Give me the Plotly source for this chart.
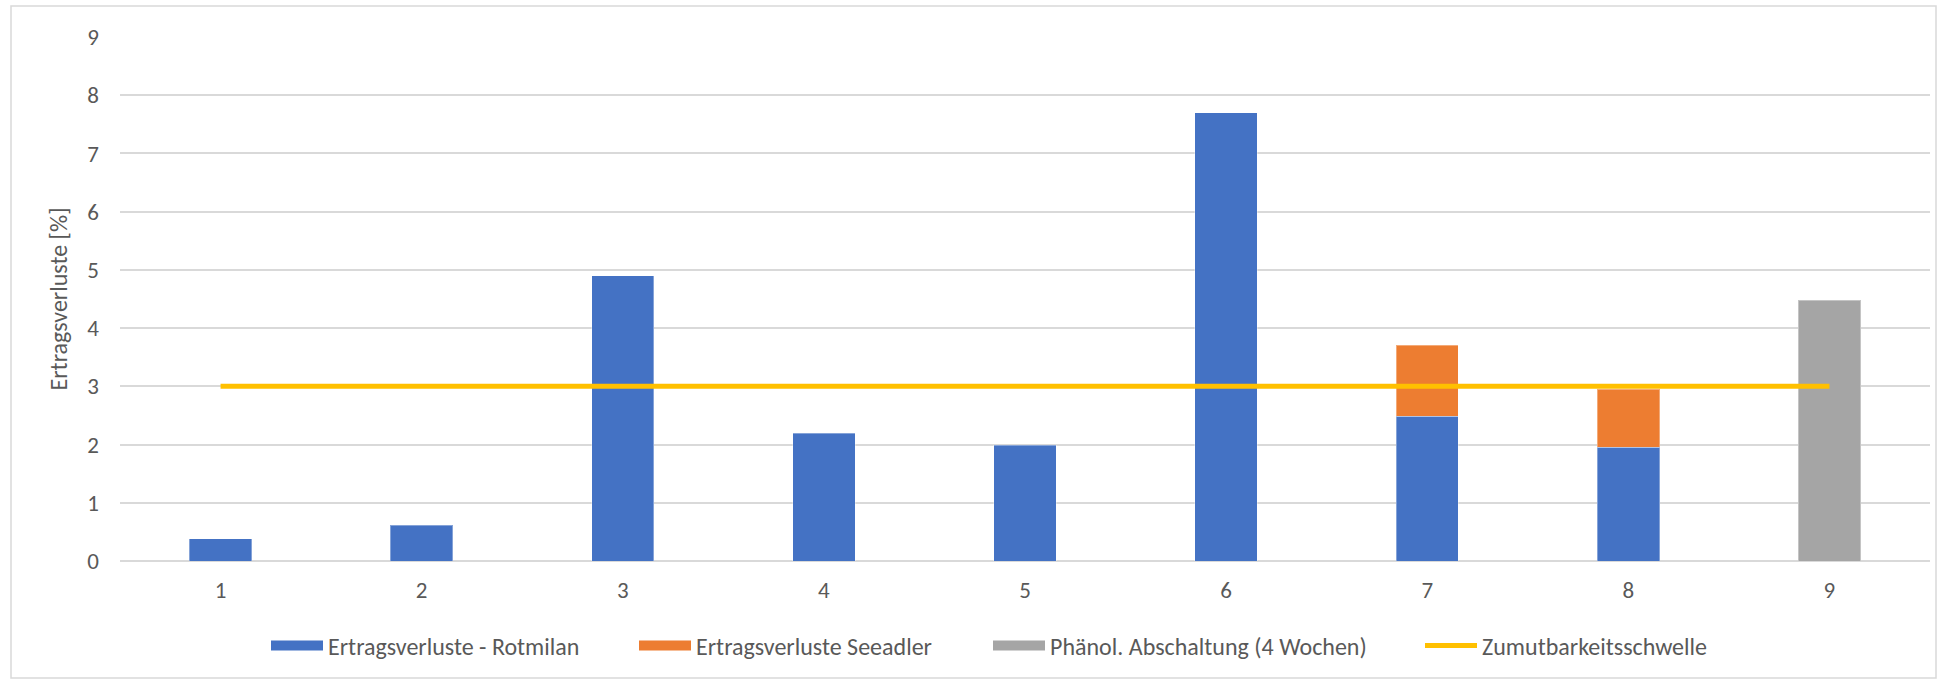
import plotly.graph_objects as go

categories = [1, 2, 3, 4, 5, 6, 7, 8, 9]
rotmilan = [0.38, 0.61, 4.90, 2.19, 1.99, 7.70, 2.49, 1.95, None]
seeadler = [None, None, None, None, None, None, 1.22, 1.00, None]
phaenol = [None, None, None, None, None, None, None, None, 4.48]
schwelle = [3, 3, 3, 3, 3, 3, 3, 3, 3]
y_ticks = [0, 1, 2, 3, 4, 5, 6, 7, 8, 9]

names = ["Ertragsverluste - Rotmilan", "Ertragsverluste Seeadler",
         "Phänol. Abschaltung (4 Wochen)", "Zumutbarkeitsschwelle"]
colors = ["#4472C4", "#ED7D31", "#A5A5A5", "#FFC000"]

FONT = "Calibri, Carlito, Lato, sans-serif"
TXT = "#595959"
FS_TICK = 23
FS_LEG = 24
FS_TITLE = 24
W, H = 1940, 681
L, R, T, B = 120, 10, 37, 120
pw, ph = W - L - R, H - T - B

def px_x(p):
    return (p - L) / pw

def px_y(p):
    return (H - B - p) / ph

fig = go.Figure()
edge = dict(color="rgba(255,255,255,0.35)", width=1)
for vals, nm, col in [(rotmilan, names[0], colors[0]), (seeadler, names[1], colors[1]),
                      (phaenol, names[2], colors[2])]:
    fig.add_trace(go.Bar(x=categories, y=vals, name=nm, marker=dict(color=col, line=edge),
                         width=0.31, showlegend=False))
fig.add_trace(go.Scatter(x=categories, y=schwelle, name=names[3], mode="lines",
                         line=dict(color=colors[3], width=5), showlegend=False))

# legend entries (wide keys as in the original)
leg_ids = ["legend", "legend2", "legend3", "legend4"]
key_w = [12, 12, 12, 5]
for nm, col, lid, kw in zip(names, colors, leg_ids, key_w):
    fig.add_trace(go.Scatter(x=[None], y=[None], name=nm, mode="lines",
                             line=dict(color=col, width=kw), legend=lid, showlegend=True,
                             hoverinfo="skip"))

leg_y = px_y(646)
def leg(xpx):
    return dict(x=px_x(xpx), y=leg_y, xanchor="left", yanchor="middle", orientation="h",
                font=dict(family=FONT, size=FS_LEG, color=TXT), bgcolor="rgba(0,0,0,0)",
                itemwidth=52, tracegroupgap=0, visible=True)

fig.update_layout(
    width=W, height=H,
    margin=dict(l=L, r=R, t=T, b=B, pad=0),
    barmode="stack",
    showlegend=True,
    plot_bgcolor="white", paper_bgcolor="white",
    font=dict(family=FONT, size=FS_TICK, color=TXT),
    xaxis=dict(range=[0.5, 9.5], tickmode="array", tickvals=categories,
               ticktext=[str(c) for c in categories], showgrid=False, zeroline=False,
               showline=False, ticks="", ticklabelstandoff=13,
               tickfont=dict(family=FONT, size=FS_TICK, color=TXT)),
    yaxis=dict(range=[0, 9], tickmode="array", tickvals=y_ticks,
               showgrid=True, gridcolor="#D9D9D9", gridwidth=1.5,
               zeroline=True, zerolinecolor="#D9D9D9", zerolinewidth=1.5,
               showline=False, ticks="", ticklabelstandoff=20,
               tickfont=dict(family=FONT, size=FS_TICK, color=TXT),
               title=dict(text="Ertragsverluste [%]", standoff=12,
                          font=dict(family=FONT, size=FS_TITLE, color=TXT))),
    legend=leg(266), legend2=leg(634), legend3=leg(988), legend4=leg(1420),
    shapes=[dict(type="rect", xref="paper", yref="paper",
                 x0=px_x(11), x1=px_x(1936), y0=px_y(678), y1=px_y(6),
                 line=dict(color="#D9D9D9", width=1.5), fillcolor="rgba(0,0,0,0)", layer="below")],
)

fig.write_html("out.html")
